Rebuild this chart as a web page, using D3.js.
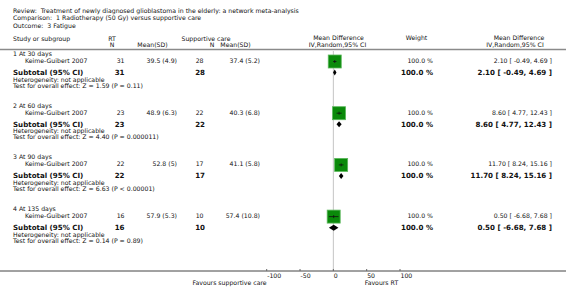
<!DOCTYPE html>
<html>
<head>
<meta charset="utf-8">
<script src="https://cdn.jsdelivr.net/npm/d3@7"></script>
<style>
  body { margin: 0; background: #fff; }
  svg text { font-family: "DejaVu Sans", Verdana, sans-serif; fill: #111; }
</style>
</head>
<body>
<div id="chart"></div>
<script>
const titleLines = [
  'Review:  Treatment of newly diagnosed glioblastoma in the elderly: a network meta-analysis',
  'Comparison:  1 Radiotherapy (50 Gy) versus supportive care',
  'Outcome:  3 Fatigue'
];
const groups = ['1 At 30 days', '2 At 60 days', '3 At 90 days', '4 At 135 days'];
const studies = ['Keime-Guibert 2007', 'Keime-Guibert 2007', 'Keime-Guibert 2007', 'Keime-Guibert 2007'];
const rtN = [31, 23, 22, 16];
const rtMean = ['39.5 (4.9)', '48.9 (6.3)', '52.8 (5)', '57.9 (5.3)'];
const scN = [28, 22, 17, 10];
const scMean = ['37.4 (5.2)', '40.3 (6.8)', '41.1 (5.8)', '57.4 (10.8)'];
const md = [2.10, 8.60, 11.70, 0.50];
const lo = [-0.49, 4.77, 8.24, -6.68];
const hi = [4.69, 12.43, 15.16, 7.68];
const weight = [100, 100, 100, 100];
const tests = ['Z = 1.59 (P = 0.11)', 'Z = 4.40 (P = 0.000011)', 'Z = 6.63 (P < 0.00001)', 'Z = 0.14 (P = 0.89)'];
const ticks = [-100, -50, 0, 50, 100];

const W = 566, H = 301;
const svg = d3.select('#chart').append('svg')
    .attr('width', W)
    .attr('height', H);

const x = d3.scaleLinear().domain([-100, 100]).range([266.7, 400]);
// plain hyphen minus like the original, not d3's unicode minus
const fmt = v => v.toFixed(2);
const ci = i => `${fmt(md[i])} [ ${fmt(lo[i])}, ${fmt(hi[i])} ]`;

function txt(xp, yp, s, opts = {}) {
    return svg.append('text')
        .attr('x', xp)
        .attr('y', yp)
        .attr('dy', '0.33em')
        .attr('text-anchor', opts.anchor || 'start')
        .style('font-size', (opts.size || 6.2) + 'px')
        .style('font-weight', opts.bold ? 'bold' : 'normal')
        .style('white-space', 'pre')
        .text(s);
}

// title block
titleLines.forEach((t, i) => txt(13, 11 + i * 7.3, t));

// column headers
txt(13, 38.5, 'Study or subgroup');
txt(112, 38.5, 'RT', {anchor: 'middle'});
txt(112, 44.5, 'N', {anchor: 'middle'});
txt(152.5, 44.5, 'Mean(SD)', {anchor: 'middle'});
txt(206, 38.5, 'Supportive care', {anchor: 'middle'});
txt(212, 44.5, 'N', {anchor: 'middle'});
txt(235.5, 44.5, 'Mean(SD)', {anchor: 'middle'});
txt(338.5, 37.5, 'Mean Difference', {anchor: 'middle'});
txt(337.5, 44.5, 'IV,Random,95% CI', {anchor: 'middle'});
txt(416.5, 37.5, 'Weight', {anchor: 'middle'});
txt(519, 37.5, 'Mean Difference', {anchor: 'middle'});
txt(515, 44.5, 'IV,Random,95% CI', {anchor: 'middle'});

svg.append('line')
    .attr('x1', 0).attr('x2', W)
    .attr('y1', 49.5).attr('y2', 49.5)
    .attr('stroke', '#8a8a8a')
    .attr('stroke-width', 1.3);

const axisY = 271;

// zero line
svg.append('line')
    .attr('x1', x(0)).attr('x2', x(0))
    .attr('y1', 51).attr('y2', axisY)
    .attr('stroke', '#c4c4c4')
    .attr('stroke-width', 1);

groups.forEach((g, i) => {
    const sy = 61 + i * 51.7;
    txt(13, sy - 7, g);
    txt(25, sy, studies[i]);
    txt(124.5, sy, rtN[i], {anchor: 'end'});
    txt(177, sy, rtMean[i], {anchor: 'end'});
    txt(203.5, sy, scN[i], {anchor: 'end'});
    txt(260, sy, scMean[i], {anchor: 'end'});
    txt(433, sy, weight[i].toFixed(1) + ' %', {anchor: 'end'});
    txt(552, sy, ci(i), {anchor: 'end'});

    const by = sy + 11.6;
    txt(13, by, 'Subtotal (95% CI)', {bold: true, size: 7.1});
    txt(124.5, by, rtN[i], {anchor: 'end', bold: true, size: 7.1});
    txt(205, by, scN[i], {anchor: 'end', bold: true, size: 7.1});
    txt(433, by, weight[i].toFixed(1) + ' %', {anchor: 'end', bold: true, size: 7.1});
    txt(552, by, ci(i), {anchor: 'end', bold: true, size: 7.1});
    txt(13, sy + 18.5, 'Heterogeneity: not applicable');
    txt(13, sy + 24.6, 'Test for overall effect: ' + tests[i]);

    // study square
    const s = 13 * Math.sqrt(weight[i] / 100);
    svg.append('rect')
        .attr('x', x(md[i]) - s / 2)
        .attr('y', sy + 0.5 - s / 2)
        .attr('width', s)
        .attr('height', s)
        .attr('fill', '#0a8a0a')
        .attr('stroke', '#5cb85c')
        .attr('stroke-width', 0.8);
    svg.append('line')
        .attr('x1', x(lo[i])).attr('x2', x(hi[i]))
        .attr('y1', sy + 0.5).attr('y2', sy + 0.5)
        .attr('stroke', '#111')
        .attr('stroke-width', 0.8);
    svg.append('line')
        .attr('x1', x(md[i])).attr('x2', x(md[i]))
        .attr('y1', sy - 1).attr('y2', sy + 2)
        .attr('stroke', '#111')
        .attr('stroke-width', 0.8);

    // subtotal diamond
    const dy = by;
    svg.append('path')
        .attr('d', `M${x(lo[i])},${dy} L${x(md[i])},${dy - 3} L${x(hi[i])},${dy} L${x(md[i])},${dy + 3} Z`)
        .attr('fill', '#000');
});

// axis
svg.append('line')
    .attr('x1', 0).attr('x2', W)
    .attr('y1', axisY).attr('y2', axisY)
    .attr('stroke', '#444')
    .attr('stroke-width', 1);

const tk = svg.selectAll('.tick').data(ticks).enter().append('g');
tk.append('line')
    .attr('x1', d => x(d)).attr('x2', d => x(d))
    .attr('y1', axisY - 2).attr('y2', axisY)
    .attr('stroke', '#666');
tk.each(function(d) {
    txt(x(d) + 0.5, axisY + 5, String(d));
});

txt(x(-100), axisY + 11.5, 'Favours supportive care', {anchor: 'end'});
txt(x(50) - 2, axisY + 11.5, 'Favours RT');
</script>
</body>
</html>
